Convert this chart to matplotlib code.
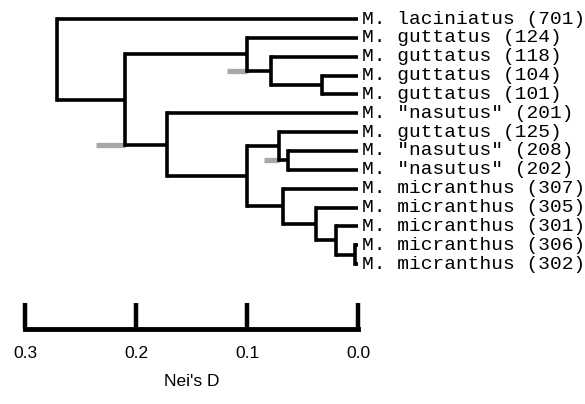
import matplotlib
matplotlib.use("Agg")
import matplotlib.pyplot as plt

# ---- data ----
leaf_labels = ['M. laciniatus (701)', 'M. guttatus (124)', 'M. guttatus (118)',
               'M. guttatus (104)', 'M. guttatus (101)', 'M. "nasutus" (201)',
               'M. guttatus (125)', 'M. "nasutus" (208)', 'M. "nasutus" (202)',
               'M. micranthus (307)', 'M. micranthus (305)', 'M. micranthus (301)',
               'M. micranthus (306)', 'M. micranthus (302)']
# internal nodes: (child_a, child_b, Nei's D); leaves are 0..13, nodes 14..
node_child_a = [12, 11, 10, 9, 7, 6, 19, 5, 3, 2, 1, 24, 0]
node_child_b = [13, 14, 15, 16, 8, 18, 17, 20, 4, 22, 23, 21, 25]
node_height = [0.003, 0.020, 0.038, 0.068, 0.063, 0.071, 0.100, 0.172,
               0.032, 0.078, 0.100, 0.210, 0.271]
# standard-error bars (node index, extent to the left in D)
se_nodes = [25, 24, 19]
se_extent = [0.026, 0.018, 0.014]
scale_ticks = [0.3, 0.2, 0.1, 0.0]
scale_label = "Nei's D"

# ---- layout ----
W, H = 585, 404
fig = plt.figure(figsize=(W / 100, H / 100), dpi=100)
ax = fig.add_axes([0, 0, 1, 1])
px_per_unit = 1110.0
x0_px = 358.0
y0_px, dy_px = 19.0, 18.85
ax.set_xlim((x0_px - 0) / px_per_unit, (x0_px - W) / px_per_unit)
ax.set_ylim((H - y0_px) / dy_px, -y0_px / dy_px)
ax.axis('off')

n = len(leaf_labels)
pos_y = {i: float(i) for i in range(n)}
pos_x = {i: 0.0 for i in range(n)}
lw = 2.6
black = '#000000'

for k, (a, b, h) in enumerate(zip(node_child_a, node_child_b, node_height)):
    idx = n + k
    ya, yb = pos_y[a], pos_y[b]
    ax.plot([h, h], [ya, yb], color=black, lw=lw, solid_capstyle='projecting', zorder=3)
    ax.plot([h, pos_x[a]], [ya, ya], color=black, lw=lw, solid_capstyle='butt', zorder=3)
    ax.plot([h, pos_x[b]], [yb, yb], color=black, lw=lw, solid_capstyle='butt', zorder=3)
    pos_y[idx] = (ya + yb) / 2
    pos_x[idx] = h

# SE bars (gray) at the lower corner of nodes
for nd, ext in zip(se_nodes, se_extent):
    k = nd - n
    b = node_child_b[k]
    h = node_height[k]
    ax.plot([h, h + ext], [pos_y[b], pos_y[b]], color='#a8a8a8', lw=3.8,
            solid_capstyle='butt', zorder=2)

for i, lab in enumerate(leaf_labels):
    ax.text(-0.004, i, lab, ha='left', va='center', family='Liberation Mono',
            fontsize=14, color=black)

# scale bar
bar_y = (329 - y0_px) / dy_px
tick_top = (303 - y0_px) / dy_px
ax.plot([scale_ticks[0], scale_ticks[-1]], [bar_y, bar_y], color=black, lw=3.5,
        solid_capstyle='projecting')
for t in scale_ticks:
    ax.plot([t, t], [bar_y, tick_top], color=black, lw=3.2, solid_capstyle='butt')
    ax.text(t, (353 - y0_px) / dy_px, f"{t:.1f}", ha='center', va='center',
            family='Liberation Sans', fontsize=12.5)
ax.text(sum(scale_ticks[1:3]) / 2 + 0.0, (381 - y0_px) / dy_px, scale_label,
        ha='center', va='center', family='Liberation Sans', fontsize=12.5)

fig.savefig('out.png', dpi=100)
